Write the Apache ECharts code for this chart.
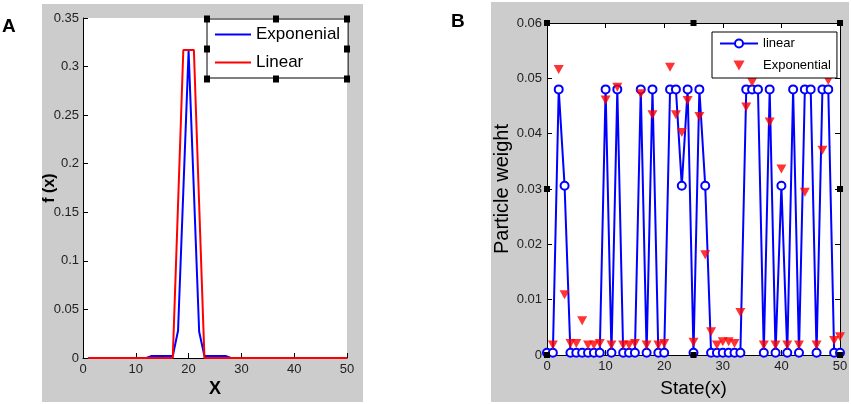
<!DOCTYPE html>
<html>
<head>
<meta charset="utf-8">
<title>Particle weight</title>
<script src="https://cdn.jsdelivr.net/npm/echarts@6/dist/echarts.min.js"></script>
<style>
  html, body { margin: 0; padding: 0; background: #fff; }
  #chart { width: 851px; height: 404px; }
</style>
</head>
<body>
<div id="chart"></div>
<script>
// panel A: f(x) of the two weighting curves
var xA = [1,2,3,4,5,6,7,8,9,10,11,12,13,14,15,16,17,18,19,20,21,22,23,24,25,
          26,27,28,29,30,31,32,33,34,35,36,37,38,39,40,41,42,43,44,45,46,47,48,49,50];
var expA = [0,0,0,0,0,0,0,0,0,0,0,0,0.002,0.002,0.002,0.002,0.002,0.028,0.172,0.316,0.172,0.027,0.002,0.002,0.002,
            0.002,0.002,0,0,0,0,0,0,0,0,0,0,0,0,0,0,0,0,0,0,0,0,0,0,0];
var linA = [0,0,0,0,0,0,0,0,0,0,0,0,0,0,0,0,0,0.158,0.317,0.317,0.317,0.158,0,0,0,
            0,0,0,0,0,0,0,0,0,0,0,0,0,0,0,0,0,0,0,0,0,0,0,0,0];

// panel B: particle weight per state
var xB = [0,1,2,3,4,5,6,7,8,9,10,11,12,13,14,15,16,17,18,19,20,21,22,23,24,25,
          26,27,28,29,30,31,32,33,34,35,36,37,38,39,40,41,42,43,44,45,46,47,48,49,50];
var linB = [0.0004,0.0004,0.048,0.0306,0.0004,0.0004,0.0004,0.0004,0.0004,0.0004,
            0.048,0.0004,0.048,0.0004,0.0004,0.0004,0.048,0.0004,0.048,0.0004,
            0.0004,0.048,0.048,0.0306,0.048,0.0004,0.048,0.0306,0.0004,0.0004,
            0.0004,0.0004,0.0004,0.0004,0.048,0.048,0.048,0.0004,0.048,0.0004,
            0.0306,0.0004,0.048,0.0004,0.048,0.048,0.0004,0.048,0.048,0.0004,0.0004];
var expB = [null,0.0018,0.0516,0.0109,0.0021,0.0021,0.0062,0.0018,0.0018,0.0021,
            0.0461,0.0018,0.0484,0.0018,0.0018,0.0021,0.0472,0.0018,0.0434,0.0018,
            0.0021,0.052,0.0434,0.0402,0.046,0.0023,0.0431,0.0181,0.0042,0.0018,
            0.0024,0.0024,0.0021,0.0077,0.0448,0.0493,null,0.0018,0.0421,0.0018,
            0.0336,0.0018,null,0.0018,0.0294,null,0.0018,0.037,0.0496,0.0026,0.0033];

var ticksX = { min: 0, max: 50, interval: 10 };
var ticksYA = { min: 0, max: 0.35, interval: 0.05 };
var ticksYB = { min: 0, max: 0.06, interval: 0.01 };

function pairs(xs, ys) {
  return xs.map(function (x, i) { return [x, ys[i]]; });
}

var font = 'Liberation Sans, Arial, sans-serif';
var labelStyle = { color: '#222', fontSize: 13, fontFamily: font };
var lineBlack = { show: true, onZero: false, lineStyle: { color: '#000', width: 1 } };
var tickIn = { show: true, inside: true, length: 5, lineStyle: { color: '#000' } };
var barIcon = 'path://M0,0L36,0L36,2L0,2Z';
var downTri = 'path://M0,0L20,0L10,18Z';

function mainAxis(t, extra) {
  var a = {
    type: 'value', min: t.min, max: t.max, interval: t.interval,
    splitLine: { show: false },
    axisLine: lineBlack, axisTick: tickIn,
    axisLabel: Object.assign({ margin: 5 }, labelStyle),
    nameMoveOverlap: false
  };
  return Object.assign(a, extra);
}
function mirrorAxis(t, extra) {
  var a = {
    type: 'value', min: t.min, max: t.max, interval: t.interval,
    splitLine: { show: false },
    axisLine: lineBlack, axisTick: tickIn,
    axisLabel: { show: false }
  };
  return Object.assign(a, extra);
}

var chart = echarts.init(document.getElementById('chart'), null, { renderer: 'canvas' });

var option = {
  animation: false,
  backgroundColor: '#fff',
  graphic: [
    { type: 'rect', shape: { x: 42, y: 4, width: 321, height: 398 }, style: { fill: '#cccccc' }, z: -10 },
    { type: 'rect', shape: { x: 491, y: 2, width: 358, height: 400 }, style: { fill: '#cccccc' }, z: -10 },
    { type: 'text', left: 2, top: 17, style: { text: 'A', font: 'bold 19px ' + font, fill: '#000' } },
    { type: 'text', left: 451, top: 12, style: { text: 'B', font: 'bold 19px ' + font, fill: '#000' } }
  ],
  grid: [
    { left: 83, top: 18, width: 264, height: 340, show: true, backgroundColor: '#fff', borderWidth: 0 },
    { left: 547, top: 23, width: 293, height: 332, show: true, backgroundColor: '#fff', borderWidth: 0 }
  ],
  legend: [
    {
      data: [{ name: 'Exponenial', icon: barIcon }, { name: 'Linear', icon: barIcon }],
      orient: 'vertical', left: 207, top: 19,
      itemWidth: 36, itemHeight: 14, itemGap: 11,
      padding: [7, 8, 7, 8],
      borderColor: '#000', borderWidth: 1, backgroundColor: '#fff',
      textStyle: { color: '#000', fontSize: 17, fontFamily: font }
    },
    {
      data: ['linear', 'Exponential'],
      orient: 'vertical', left: 712, top: 32,
      itemWidth: 38, itemHeight: 10, itemGap: 9,
      padding: [5, 6, 6, 7],
      borderColor: '#000', borderWidth: 1, backgroundColor: '#fff',
      textStyle: { color: '#000', fontSize: 13, fontFamily: font }
    }
  ],
  xAxis: [
    mainAxis(ticksX, { gridIndex: 0, position: 'bottom',
      name: 'X', nameLocation: 'middle', nameGap: 22,
      nameTextStyle: { color: '#000', fontSize: 18, fontWeight: 'bold', fontFamily: font } }),
    mainAxis(ticksX, { gridIndex: 1, position: 'bottom',
      name: 'State(x)', nameLocation: 'middle', nameGap: 24,
      nameTextStyle: { color: '#000', fontSize: 19, fontFamily: font } }),
    mirrorAxis(ticksX, { gridIndex: 1, position: 'top' })
  ],
  yAxis: [
    mainAxis(ticksYA, { gridIndex: 0, position: 'left',
      axisLabel: Object.assign({ margin: 4 }, labelStyle),
      name: 'f (x)', nameLocation: 'middle', nameGap: 25,
      nameTextStyle: { color: '#000', fontSize: 16, fontWeight: 'bold', fontFamily: font } }),
    mainAxis(ticksYB, { gridIndex: 1, position: 'left',
      name: 'Particle weight', nameLocation: 'middle', nameGap: 35,
      nameTextStyle: { color: '#000', fontSize: 20, fontFamily: font } }),
    mirrorAxis(ticksYB, { gridIndex: 1, position: 'right' })
  ],
  series: [
    {
      name: 'Exponenial', type: 'line', xAxisIndex: 0, yAxisIndex: 0,
      data: pairs(xA, expA), showSymbol: false, symbol: 'none',
      color: '#0000ff', lineStyle: { color: '#0000ff', width: 2 }, z: 2
    },
    {
      name: 'Linear', type: 'line', xAxisIndex: 0, yAxisIndex: 0,
      data: pairs(xA, linA), showSymbol: false, symbol: 'none',
      color: '#ff0000', lineStyle: { color: '#ff0000', width: 2 }, z: 3
    },
    {
      name: 'linear', type: 'line', xAxisIndex: 1, yAxisIndex: 1,
      data: pairs(xB, linB), symbol: 'emptyCircle', symbolSize: 8, clip: false,
      color: '#0000ff', lineStyle: { color: '#0000ff', width: 2 },
      itemStyle: { color: '#0000ff', borderColor: '#0000ff', borderWidth: 1.5 }, z: 2
    },
    {
      name: 'Exponential', type: 'scatter', xAxisIndex: 1, yAxisIndex: 1,
      data: pairs(xB, expB), symbol: downTri, symbolSize: [10, 9], clip: false,
      itemStyle: { color: '#ff0000' }, z: 3
    }
  ]
};
chart.setOption(option);

// selection handles: corners and midpoints of axes B, and round legend A
var handles = [];
function handle(x, y, w, h) {
  handles.push({ type: 'rect', shape: { x: x - w / 2, y: y - h / 2, width: w, height: h },
                 style: { fill: '#000' }, z: 50 });
}
var hx = [ticksX.min, (ticksX.min + ticksX.max) / 2, ticksX.max];
var hy = [ticksYB.min, (ticksYB.min + ticksYB.max) / 2, ticksYB.max];
hx.forEach(function (x, i) {
  hy.forEach(function (y, j) {
    if (i === 1 && j === 1) return;
    var p = chart.convertToPixel({ gridIndex: 1 }, [x, y]);
    handle(p[0], p[1], 6, 6);
  });
});
[[207, 19], [276, 19], [347, 19], [207, 49], [347, 49], [207, 79], [276, 79], [347, 79]].forEach(function (p) {
  handle(p[0], p[1], 6, 7);
});
chart.setOption({ graphic: option.graphic.concat(handles) });
</script>
</body>
</html>
